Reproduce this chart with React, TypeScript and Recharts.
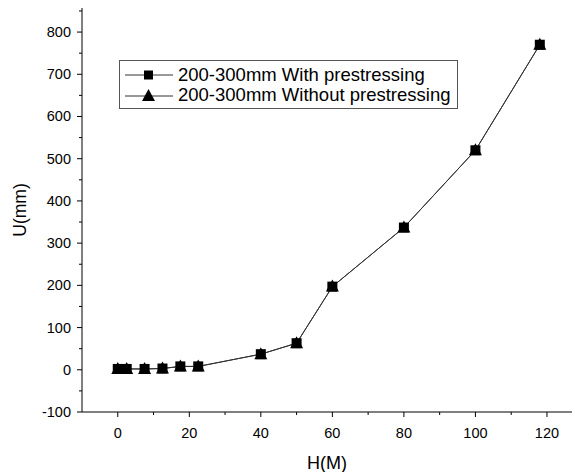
import { LineChart, Line, XAxis, YAxis } from "recharts";

const hValues = [0, 2.5, 7.5, 12.5, 17.5, 22.5, 40, 50, 60, 80, 100, 118];
const uWithPrestress = [2, 2, 2, 3, 8, 8, 37, 63, 197, 337, 520, 770];
const uWithoutPrestress = [2, 2, 2, 3, 8, 8, 37, 63, 197, 337, 520, 770];
const xTicks = [0, 10, 20, 30, 40, 50, 60, 70, 80, 90, 100, 110, 120];
const yTicks = [-100, -50, 0, 50, 100, 150, 200, 250, 300, 350, 400, 450, 500, 550, 600, 650, 700, 750, 800, 850];
const seriesNames = ["200-300mm With prestressing", "200-300mm Without prestressing"];

const data = hValues.map((h, i) => ({
  h,
  withP: uWithPrestress[i],
  withoutP: uWithoutPrestress[i],
}));

const FONT = "'Liberation Sans', Arial, sans-serif";

const XTick = (props: any) => {
  const { x, y, payload } = props;
  const major = payload.value % 20 === 0;
  return (
    <g>
      <line x1={x} y1={y} x2={x} y2={y + (major ? 5 : 3)} stroke="#000" />
      {major && (
        <text x={x} y={y + 26} textAnchor="middle" fontSize={14.5} fontFamily={FONT} fill="#000">
          {payload.value}
        </text>
      )}
    </g>
  );
};

const YTick = (props: any) => {
  const { x, y, payload } = props;
  const major = payload.value % 100 === 0;
  return (
    <g>
      <line x1={x} y1={y} x2={x - (major ? 5 : 3)} y2={y} stroke="#000" />
      {major && (
        <text x={x - 11} y={y + 5} textAnchor="end" fontSize={14.5} fontFamily={FONT} fill="#000">
          {payload.value}
        </text>
      )}
    </g>
  );
};

const SquareDot = (props: any) => {
  const { cx, cy, index } = props;
  return <rect key={`s-${index}`} x={cx - 5} y={cy - 5} width={10} height={10} fill="#000" />;
};

const TriangleDot = (props: any) => {
  const { cx, cy, index } = props;
  return (
    <path
      key={`t-${index}`}
      d={`M${cx},${cy - 7} L${cx + 6.5},${cy + 5} L${cx - 6.5},${cy + 5} Z`}
      fill="#000"
    />
  );
};

const LegendBox = () => (
  <div
    style={{
      position: "absolute",
      left: 119,
      top: 60,
      border: "1px solid #555",
      width: 339,
      height: 49,
      boxSizing: "border-box",
      fontFamily: FONT,
      fontSize: 18.5,
      color: "#000",
      background: "#fff",
      padding: "4px 0 0 5px",
      lineHeight: "20px",
    }}
  >
    <div style={{ display: "flex", alignItems: "center", height: 20 }}>
      <svg width={48} height={14}>
        <line x1={0} y1={7} x2={48} y2={7} stroke="#333" />
        <rect x={19} y={2.5} width={9} height={9} fill="#000" />
      </svg>
      <span style={{ marginLeft: 5 }}>{seriesNames[0]}</span>
    </div>
    <div style={{ display: "flex", alignItems: "center", height: 20 }}>
      <svg width={48} height={14}>
        <line x1={0} y1={8} x2={48} y2={8} stroke="#333" />
        <path d="M23.5,1 L30,13 L17,13 Z" fill="#000" />
      </svg>
      <span style={{ marginLeft: 5 }}>{seriesNames[1]}</span>
    </div>
  </div>
);

export default function App() {
  return (
    <div style={{ position: "relative", width: 575, height: 472, background: "#fff" }}>
      <style>{"body{margin:0}"}</style>
      <LineChart
        width={575}
        height={472}
        data={data}
        margin={{ top: 8, right: 3, left: 0, bottom: 0 }}
      >
        <XAxis
          dataKey="h"
          type="number"
          domain={[-10, 127]}
          ticks={xTicks}
          allowDataOverflow
          tickSize={0}
          tickMargin={0}
          tickLine={false}
          tick={<XTick />}
          height={60}
          stroke="#000"
          interval={0}
          label={{
            value: "H(M)",
            position: "insideBottom",
            offset: 3,
            style: { fontSize: 18, fontFamily: FONT, fill: "#000" },
          }}
        />
        <YAxis
          type="number"
          domain={[-100, 857]}
          ticks={yTicks}
          allowDataOverflow
          tickSize={0}
          tickMargin={0}
          tickLine={false}
          tick={<YTick />}
          width={82}
          stroke="#000"
          interval={0}
          label={{
            value: "U(mm)",
            angle: -90,
            position: "insideLeft",
            offset: 20,
            style: { fontSize: 17.5, fontFamily: FONT, fill: "#000", textAnchor: "middle" },
          }}
        />
        <Line
          type="linear"
          dataKey="withP"
          name={seriesNames[0]}
          stroke="#333"
          strokeWidth={1}
          dot={<SquareDot />}
          activeDot={false}
          isAnimationActive={false}
        />
        <Line
          type="linear"
          dataKey="withoutP"
          name={seriesNames[1]}
          stroke="#333"
          strokeWidth={1}
          dot={<TriangleDot />}
          activeDot={false}
          isAnimationActive={false}
        />
      </LineChart>
      <LegendBox />
    </div>
  );
}
